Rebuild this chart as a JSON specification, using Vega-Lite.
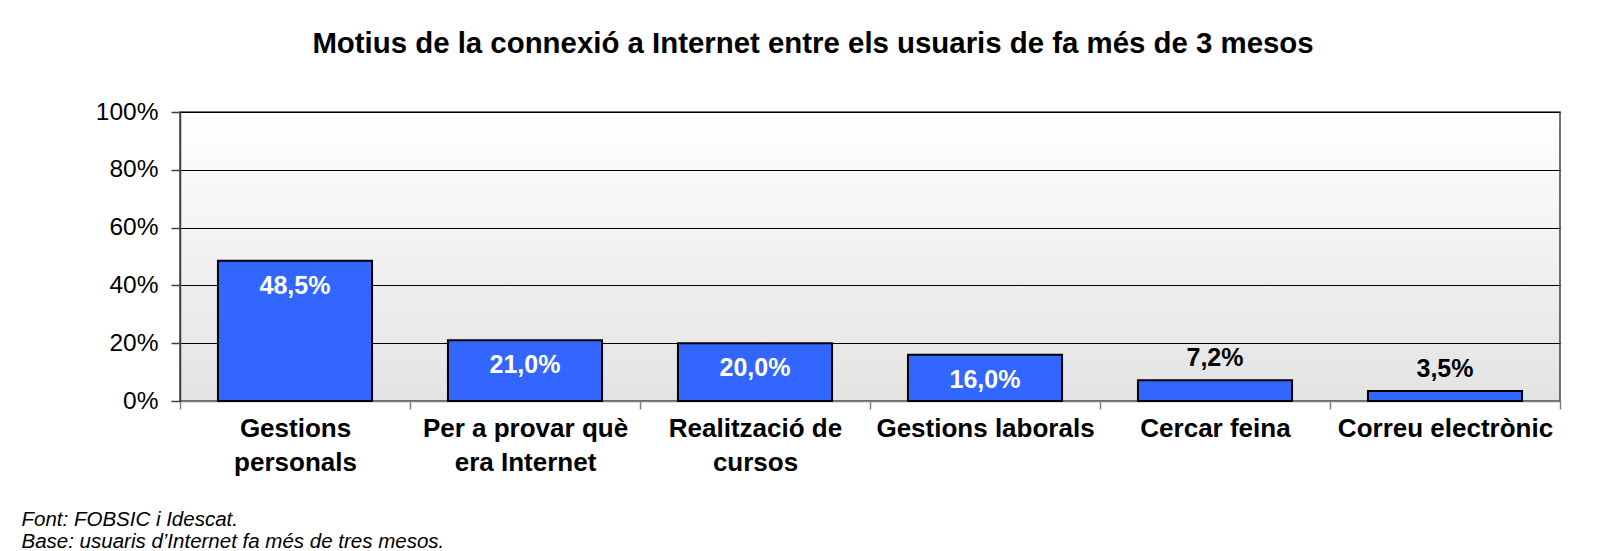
{
  "$schema": "https://vega.github.io/schema/vega-lite/v6.json",
  "width": 1380,
  "height": 289,
  "autosize": {"type": "none"},
  "padding": {"left": 180, "top": 112, "right": 64, "bottom": 150},
  "background": "white",
  "title": {
    "text": "Motius de la connexió a Internet entre els usuaris de fa més de 3 mesos",
    "fontSize": 29.4,
    "fontWeight": "bold",
    "font": "Liberation Sans",
    "color": "black",
    "anchor": "middle",
    "frame": "group",
    "dx": -57,
    "baseline": "alphabetic",
    "offset": 17
  },
  "data": {
    "values": [
      {"motiu": "Gestions personals", "valor": 0.485},
      {"motiu": "Per a provar què era Internet", "valor": 0.21},
      {"motiu": "Realització de cursos", "valor": 0.2},
      {"motiu": "Gestions laborals", "valor": 0.16},
      {"motiu": "Cercar feina", "valor": 0.072},
      {"motiu": "Correu electrònic", "valor": 0.035}
    ]
  },
  "encoding": {
    "x": {
      "field": "motiu",
      "type": "nominal",
      "sort": null,
      "scale": {"paddingInner": 0, "paddingOuter": 0},
      "axis": {
        "labelAngle": 0,
        "labelFont": "Liberation Sans",
        "labelFontSize": 26,
        "labelFontWeight": "bold",
        "labelColor": "black",
        "labelLineHeight": 34,
        "labelBaseline": "top",
        "labelPadding": 6,
        "labelLimit": 0,
        "labelExpr": "datum.value == 'Gestions personals' ? ['Gestions', 'personals'] : datum.value == 'Per a provar què era Internet' ? ['Per a provar què', 'era Internet'] : datum.value == 'Realització de cursos' ? ['Realització de', 'cursos'] : datum.label",
        "tickBand": "extent",
        "tickSize": 8,
        "tickColor": "#808080",
        "tickWidth": 1.5,
        "domainColor": "#808080",
        "domainWidth": 1.5,
        "grid": false,
        "title": ["Font: FOBSIC i Idescat.", "Base: usuaris d’Internet fa més de tres mesos."],
        "titleFont": "Liberation Sans",
        "titleFontSize": 20.5,
        "titleFontStyle": "italic",
        "titleFontWeight": "normal",
        "titleColor": "black",
        "titleAnchor": "start",
        "titleAlign": "left",
        "titleBaseline": "alphabetic",
        "titleLineHeight": 22,
        "titleX": -159,
        "titleY": 124
      }
    },
    "y": {
      "field": "valor",
      "type": "quantitative",
      "scale": {"domain": [0, 1], "nice": false},
      "axis": {
        "values": [0, 0.2, 0.4, 0.6, 0.8, 1],
        "format": ".0%",
        "labelFont": "Liberation Sans",
        "labelFontSize": 24.5,
        "labelColor": "black",
        "labelPadding": 13,
        "tickSize": 9,
        "tickColor": "#404040",
        "tickWidth": 1.5,
        "domainColor": "#404040",
        "domainWidth": 1.5,
        "grid": true,
        "gridColor": "#000000",
        "gridWidth": 1,
        "title": null
      }
    }
  },
  "layer": [
    {
      "mark": {
        "type": "bar",
        "color": "#3366ff",
        "stroke": "#000000",
        "strokeWidth": 2,
        "width": {"band": 0.67}
      }
    },
    {
      "transform": [{"filter": "datum.valor >= 0.1"}],
      "mark": {
        "type": "text",
        "baseline": "middle",
        "dy": 25,
        "color": "white",
        "font": "Liberation Sans",
        "fontWeight": "bold",
        "fontSize": 25
      },
      "encoding": {"text": {"field": "valor", "type": "quantitative", "format": ".1%"}}
    },
    {
      "transform": [{"filter": "datum.valor < 0.1"}],
      "mark": {
        "type": "text",
        "baseline": "middle",
        "dy": -22,
        "color": "black",
        "font": "Liberation Sans",
        "fontWeight": "bold",
        "fontSize": 25
      },
      "encoding": {"text": {"field": "valor", "type": "quantitative", "format": ".1%"}}
    }
  ],
  "config": {
    "font": "Liberation Sans",
    "locale": {
      "number": {"decimal": ",", "thousands": ".", "grouping": [3], "currency": ["", " €"]}
    },
    "view": {
      "fill": {
        "gradient": "linear",
        "x1": 0, "y1": 0, "x2": 0, "y2": 1,
        "stops": [
          {"offset": 0, "color": "#ffffff"},
          {"offset": 1, "color": "#e3e3e3"}
        ]
      },
      "stroke": "#404040",
      "strokeWidth": 1.5
    }
  }
}
